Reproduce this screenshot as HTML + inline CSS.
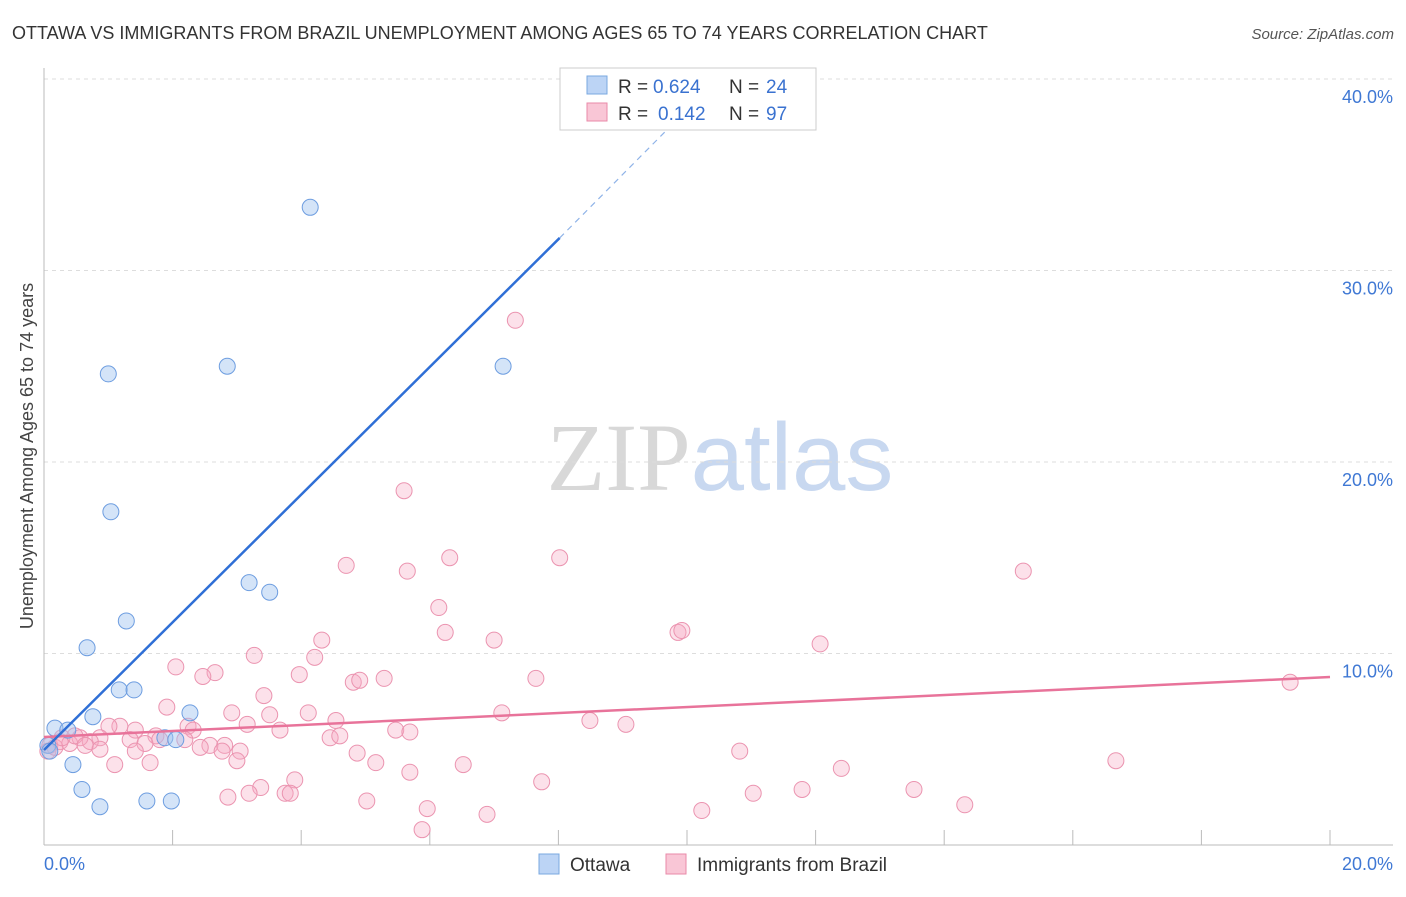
<!DOCTYPE html>
<html><head><meta charset="utf-8">
<style>
body{margin:0;background:#fff;font-family:"Liberation Sans",sans-serif;}
svg text{font-family:"Liberation Sans",sans-serif;}
</style></head>
<body>
<svg id="chart" width="1406" height="892" xmlns="http://www.w3.org/2000/svg">
<text x="12" y="39" font-size="18" fill="#333">OTTAWA VS IMMIGRANTS FROM BRAZIL UNEMPLOYMENT AMONG AGES 65 TO 74 YEARS CORRELATION CHART</text>
<text x="1394" y="39" font-size="15" fill="#555" text-anchor="end" font-style="italic">Source: ZipAtlas.com</text>
<text x="720" y="490" font-size="96" text-anchor="middle"><tspan fill="#d8d8d8" font-family="Liberation Serif">ZIP</tspan><tspan fill="#c8d8f0">atlas</tspan></text>
<text transform="translate(33,456) rotate(-90)" font-size="18" fill="#444" text-anchor="middle">Unemployment Among Ages 65 to 74 years</text>
<g id="grid"></g><g id="axes"></g><g id="marks"></g>
<g>
<rect x="560" y="68" width="256" height="62" fill="#fff" stroke="#ccc"/>
<rect x="587" y="76" width="20" height="18" fill="#bcd4f5" stroke="#7aa8e0"/>
<text x="618" y="93" font-size="19" fill="#333">R =</text>
<text x="653" y="93" font-size="19" fill="#3a72d0">0.624</text>
<text x="729" y="93" font-size="19" fill="#333">N =</text>
<text x="766" y="93" font-size="19" fill="#3a72d0">24</text>
<rect x="587" y="103" width="20" height="18" fill="#f9c6d6" stroke="#e98aa8"/>
<text x="618" y="120" font-size="19" fill="#333">R =</text>
<text x="658" y="120" font-size="19" fill="#3a72d0">0.142</text>
<text x="729" y="120" font-size="19" fill="#333">N =</text>
<text x="766" y="120" font-size="19" fill="#3a72d0">97</text>
</g>
<g>
<rect x="539" y="854" width="20" height="20" fill="#bcd4f5" stroke="#7aa8e0"/>
<text x="570" y="871" font-size="19" fill="#333">Ottawa</text>
<rect x="666" y="854" width="20" height="20" fill="#f9c6d6" stroke="#e98aa8"/>
<text x="697" y="871" font-size="19" fill="#333">Immigrants from Brazil</text>
</g>
</svg>
<script>
const yTicks=[10,20,30,40];
const yTickLabels=["10.0%","20.0%","30.0%","40.0%"];
const xTickLabels=["0.0%","20.0%"];
const ottX=[4.14,1.0,2.85,7.14,1.04,1.28,3.19,3.51,0.67,1.17,1.40,0.76,2.27,0.17,0.37,1.88,2.05,0.06,0.45,0.59,0.87,1.60,1.98,0.09];
const ottY=[33.3,24.6,25.0,25.0,17.4,11.7,13.7,13.2,10.3,8.1,8.1,6.7,6.9,6.1,6.0,5.6,5.5,5.2,4.2,2.9,2.0,2.3,2.3,4.9];
const brzX=[7.33,5.60,4.70,5.65,6.31,8.02,15.23,6.14,6.24,4.32,7.00,9.86,9.92,12.07,2.05,2.66,3.27,4.21,3.97,2.47,4.81,4.91,5.29,7.65,3.42,1.91,2.92,3.51,4.11,4.54,7.12,8.49,9.05,19.38,1.18,1.42,1.01,1.74,2.24,2.32,3.16,3.67,4.45,4.60,5.47,5.69,0.87,0.72,0.56,0.25,0.40,0.09,1.34,1.57,1.80,2.19,2.58,2.81,2.43,3.05,2.77,0.87,1.42,1.65,1.10,3.00,4.87,5.16,6.52,10.82,12.40,16.67,3.90,3.37,7.74,5.69,2.86,3.19,3.75,3.83,5.02,5.96,6.89,5.88,10.23,11.03,11.79,13.53,14.32,0.06,0.17,0.28,0.48,0.64];
const brzY=[27.4,18.5,14.6,14.3,15.0,15.0,14.3,12.4,11.1,10.7,10.7,11.1,11.2,10.5,9.3,9.0,9.9,9.8,8.9,8.8,8.5,8.6,8.7,8.7,7.8,7.2,6.9,6.8,6.9,6.5,6.9,6.5,6.3,8.5,6.2,6.0,6.2,5.7,6.2,6.0,6.3,6.0,5.6,5.7,6.0,5.9,5.6,5.4,5.6,5.4,5.3,5.2,5.5,5.3,5.5,5.5,5.2,5.2,5.1,4.9,4.9,5.0,4.9,4.3,4.2,4.4,4.8,4.3,4.2,4.9,4.0,4.4,3.4,3.0,3.3,3.8,2.5,2.7,2.7,2.7,2.3,1.9,1.6,0.8,1.8,2.7,2.9,2.9,2.1,4.9,5.1,5.6,5.7,5.2];
const ottLine=[0,4.96,8.02,31.7,10.0,38.4];
const brzLine=[0,5.64,20,8.77];
const NS="http://www.w3.org/2000/svg";
const X=v=>44+v*64.3, Y=v=>845-v*19.15;
function mk(tag,attrs,parent){const e=document.createElementNS(NS,tag);for(const k in attrs)e.setAttribute(k,attrs[k]);document.getElementById(parent).appendChild(e);return e;}
yTicks.forEach((t,i)=>{
 let g=mk('line',{x1:44,x2:1393,y1:Y(t),y2:Y(t),stroke:'#ddd','stroke-dasharray':'4,4'},'grid');
 
 
 let l=mk('text',{x:1393,y:Y(t)+24,'font-size':18,fill:'#3f78d4','text-anchor':'end'},'axes');
 l.textContent=yTickLabels[i];
 
 
});
let ax=mk('line',{x1:44,x2:44,y1:68,y2:845,stroke:'#bbb'},'axes');


let bx=mk('line',{x1:44,x2:1393,y1:845,y2:845,stroke:'#bbb'},'axes');


for(let i=0;i<=10;i++){let t=mk('line',{x1:X(i*2),x2:X(i*2),y1:830,y2:845,stroke:'#bbb'},'axes');
 
 }
[[0,'start',44],[20,'end',1393]].forEach((d,i)=>{let l=mk('text',{x:d[2],y:870,'font-size':18,fill:'#3f78d4','text-anchor':d[1]},'axes');l.textContent=xTickLabels[i];
 
 });
brzX.forEach((v,i)=>{let c=mk('circle',{cx:X(v),cy:Y(brzY[i]),r:8,fill:'rgba(245,170,195,0.35)',stroke:'#eb94b0','stroke-width':1},'marks');
 
 });
ottX.forEach((v,i)=>{let c=mk('circle',{cx:X(v),cy:Y(ottY[i]),r:8,fill:'rgba(160,195,240,0.45)',stroke:'#6d9de0','stroke-width':1},'marks');
 
 });
let bl=mk('line',{x1:X(brzLine[0]),y1:Y(brzLine[1]),x2:X(brzLine[2]),y2:Y(brzLine[3]),stroke:'#e8739a','stroke-width':2.5},'marks');


let ol=mk('line',{x1:X(ottLine[0]),y1:Y(ottLine[1]),x2:X(ottLine[2]),y2:Y(ottLine[3]),stroke:'#2f6fd6','stroke-width':2.5},'marks');


let od=mk('line',{x1:X(ottLine[2]),y1:Y(ottLine[3]),x2:X(ottLine[4]),y2:Y(ottLine[5]),stroke:'#8fb3e8','stroke-width':1.2,'stroke-dasharray':'6,5'},'marks');


</script>
</body></html>
